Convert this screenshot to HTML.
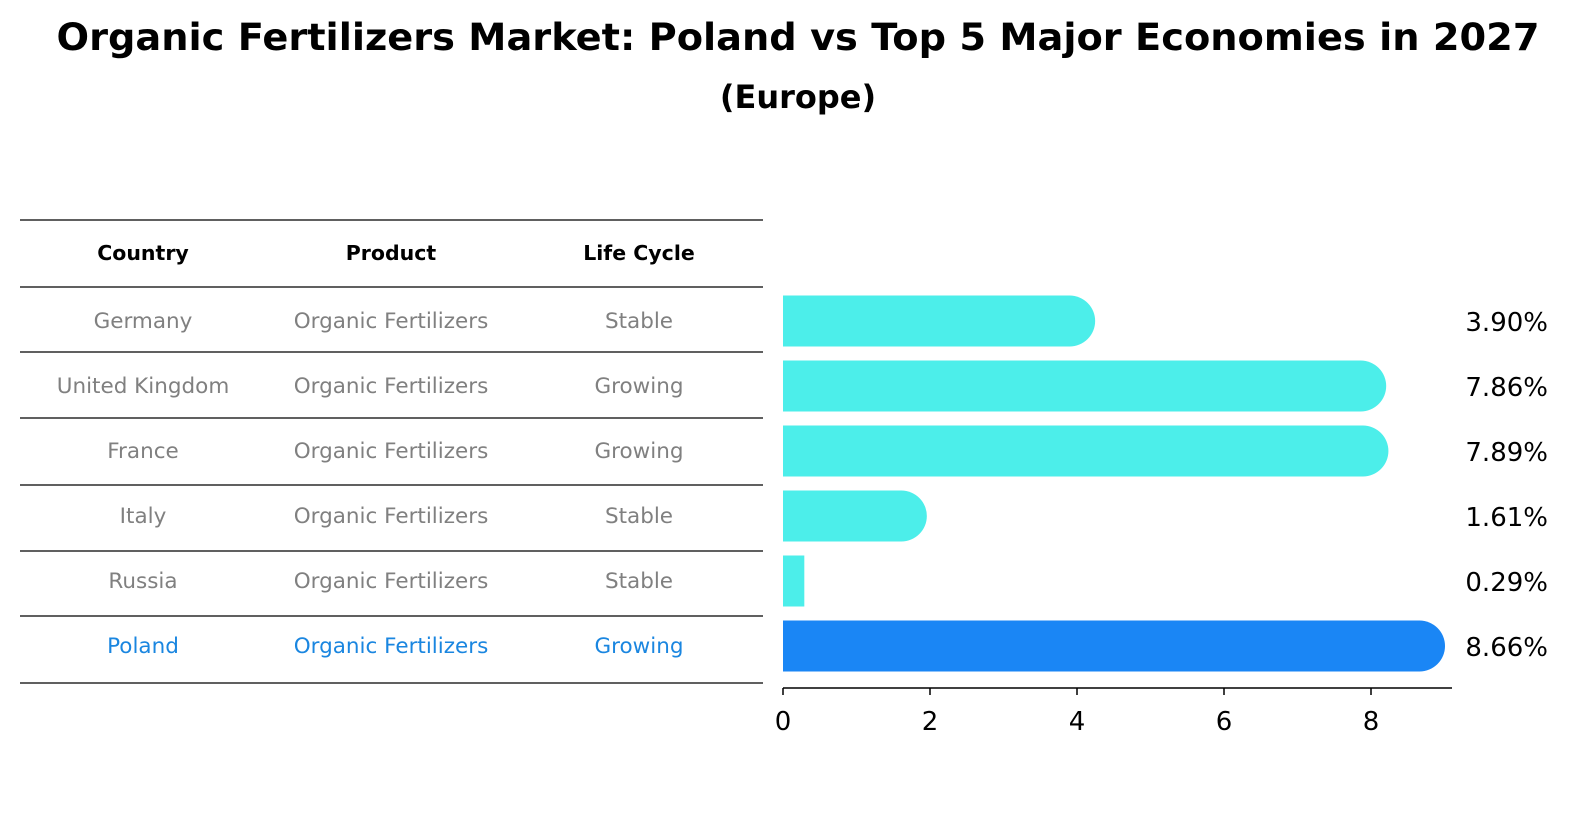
<!DOCTYPE html>
<html><head><meta charset="utf-8"><style>
html,body{margin:0;padding:0;overflow:hidden;background:#fff;width:1586px;height:823px;}
svg{display:block;}
</style></head><body>
<svg width="1586" height="823" xmlns="http://www.w3.org/2000/svg" font-family="DejaVu Sans, Liberation Sans, sans-serif">
<rect width="1586" height="823" fill="#fff"/>
<text x="798" y="50" text-anchor="middle" font-size="37" font-weight="bold" textLength="1483" lengthAdjust="spacingAndGlyphs">Organic Fertilizers Market: Poland vs Top 5 Major Economies in 2027</text>
<text x="798" y="108" text-anchor="middle" font-size="32" font-weight="bold">(Europe)</text>
<g id="table"></g>
<g id="bars"></g>
</svg>
<script>
const countries=["Germany","United Kingdom","France","Italy","Russia","Poland"];
const products=["Organic Fertilizers","Organic Fertilizers","Organic Fertilizers","Organic Fertilizers","Organic Fertilizers","Organic Fertilizers"];
const lifeCycles=["Stable","Growing","Growing","Stable","Stable","Growing"];
const values=[3.90,7.86,7.89,1.61,0.29,8.66];
const ticks=[0,2,4,6,8];
const NS="http://www.w3.org/2000/svg";
function mk(t,a,p){const e=document.createElementNS(NS,t);for(const k in a)e.setAttribute(k,a[k]);p.appendChild(e);return e;}
const x=v=>783+v*73.5;
const rowY=i=>321+i*65;
const tbl=document.getElementById('table');
const lines=[220,287,352,418,485,551,616,683];
lines.forEach(y=>{const l=mk('line',{x1:20,x2:763,y1:y,y2:y,stroke:'#000','stroke-width':1.2},tbl);

});
const cols=[143,391,639];
["Country","Product","Life Cycle"].forEach((h,j)=>{const t=mk('text',{x:cols[j],y:260,'text-anchor':'middle','font-size':20.5,'font-weight':'bold'},tbl);t.textContent=h;

});
countries.forEach((c,i)=>{const col=i===5?'#1a86e0':'#808080';
[c,products[i],lifeCycles[i]].forEach((s,j)=>{const t=mk('text',{x:cols[j],y:rowY(i)+7,'text-anchor':'middle','font-size':21.5,fill:col},tbl);t.textContent=s;

});});
const g=document.getElementById('bars');
const h=51,r=25.5;
values.forEach((v,i)=>{const y0=rowY(i)-h/2,xe=x(v),col=i===5?'#1a86f5':'#4ceeea';
let d;
if(xe-783>r) d=`M783 ${y0} H${xe} A${r} ${r} 0 0 1 ${xe} ${y0+h} H783 Z`;
else d=`M783 ${y0} H${xe} V${y0+h} H783 Z`;
const p=mk('path',{d:d,fill:col},g);


const t=mk('text',{x:1548,y:rowY(i)+10,'text-anchor':'end','font-size':26},g);t.textContent=v.toFixed(2)+'%';

});
const ax=mk('line',{x1:783,x2:1452,y1:688,y2:688,stroke:'#000','stroke-width':1.5},g);


ticks.forEach(tv=>{const l=mk('line',{x1:x(tv),x2:x(tv),y1:688,y2:695,stroke:'#000','stroke-width':1.5},g);


const t=mk('text',{x:x(tv),y:730,'text-anchor':'middle','font-size':26},g);t.textContent=tv;

});
</script>
</body></html>
